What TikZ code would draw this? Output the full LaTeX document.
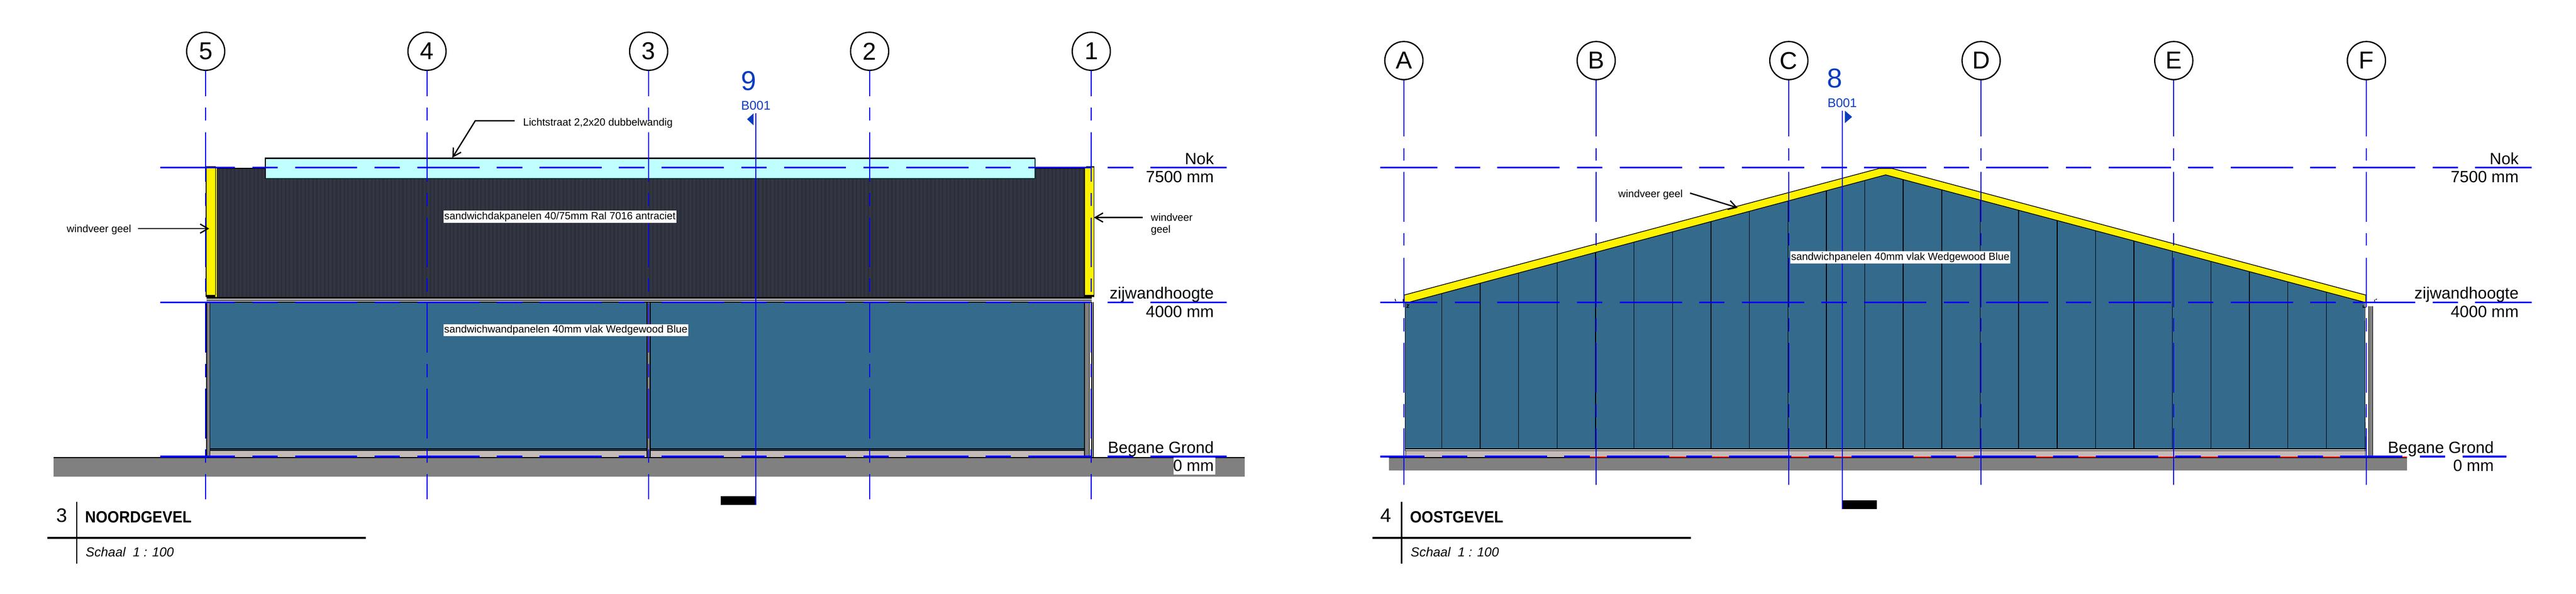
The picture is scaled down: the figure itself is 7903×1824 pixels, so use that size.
\documentclass[tikz,border=0pt]{standalone}
\usepackage{fontspec}
\setmainfont{Liberation Sans}
\usetikzlibrary{arrows.meta}
\newcommand{\fsz}[1]{\fontsize{#1pt}{#1pt}\selectfont}
\definecolor{wallblue}{HTML}{346A8C}
\definecolor{roofdark}{HTML}{323642}
\definecolor{roofrib}{HTML}{2C2F3A}
\definecolor{groundgrey}{HTML}{808080}
\definecolor{plinth}{HTML}{C4BAB8}
\definecolor{skylight}{HTML}{BFFFFF}
\definecolor{gridblue}{HTML}{0000FF}
\definecolor{sectblue}{HTML}{0A3CC0}
\definecolor{bandgrey}{HTML}{B4B4B4}
\tikzset{
  axisbubble/.style={circle,draw=black,line width=.4pt,fill=white,minimum size=11.7pt,inner sep=0pt,font=\fsz{7.5}},
  gridleft/.style={draw=gridblue,line width=.3pt,dash pattern=on 15.3pt off 3.45pt on 4pt off 3.5pt,dash phase=7.5pt},
  gridright/.style={draw=gridblue,line width=.3pt,dash pattern=on 17.2pt off 3.6pt on 3.9pt off 3.5pt on 15.2pt off 3.5pt on 3.9pt off 3.7pt on 15.2pt off 3.4pt on 4pt off 3.6pt on 15.2pt off 3.6pt on 4pt off 3.4pt on 17.5pt off 1pt},
  levelmain/.style={draw=gridblue,line width=.5pt,dash pattern=on 19.1pt off 5.3pt on 7.8pt off 5.3pt},
  levelsolid/.style={draw=gridblue,line width=.5pt},
  sectline/.style={draw=gridblue,line width=.3pt},
  outline/.style={draw=black,line width=.22pt},
  heavy/.style={draw=black,line width=.4pt},
  leader/.style={draw=black,line width=.4pt,-{Straight Barb[length=2.4pt,width=2.8pt]}},
  panellabel/.style={fill=white,inner sep=0pt,minimum height=3.7pt,font=\fsz{3.2}},
  note/.style={inner sep=0pt,font=\fsz{3.2}},
  levellabel/.style={inner sep=0pt,anchor=base east,font=\fsz{5}},
  titlenum/.style={inner sep=0pt,anchor=base west,font=\fsz{6}},
  titletext/.style={inner sep=0pt,anchor=base west,font=\fsz{5}\bfseries,xscale=.92},
  scaletext/.style={inner sep=0pt,anchor=base west,font=\fsz{4}\itshape},
  sectnum/.style={inner sep=0pt,anchor=base west,text=sectblue,font=\fsz{8.4}},
  sectsheet/.style={inner sep=0pt,anchor=base west,text=sectblue,font=\fsz{3.85}}
}
\begin{document}
\begin{tikzpicture}[x=0.1pt,y=-0.1pt]
\useasboundingbox (0,0) rectangle (7903,1824);
% ---------- NOORDGEVEL ----------
\fill[groundgrey] (165,1405) rectangle (3818,1463.5);
\fill[plinth] (645,1383) rectangle (3327,1405);
\fill[wallblue] (645,928) rectangle (3327,1383);
\draw[heavy] (645,1378) -- (3327,1378) (645,1383) -- (3327,1383);
% columns
\fill[groundgrey] (634,928) rectangle (644,1405);
\draw[outline] (634,928) -- (634,1405) (644,928) -- (644,1405);
\fill[groundgrey] (1985,928) rectangle (1995,1405);
\draw[outline] (1985,928) -- (1985,1405) (1995,928) -- (1995,1405);
\fill[groundgrey] (3327,928) rectangle (3342,1405);
\draw[outline] (3327,928) -- (3327,1405) (3342,928) -- (3342,1405) (3349,928) -- (3349,1405);
\draw[heavy] (3354,928) -- (3354,1405);
% roof
\fill[roofdark] (666,516) rectangle (3327,912);
\foreach \r in {672,684,...,3324} {\draw[roofrib,line width=.5pt] (\r,517) -- (\r,912);}
\draw[heavy] (666,516.5) -- (3327,516.5);
% eave band
\fill[bandgrey] (634,912) rectangle (3349,928);
\draw[black,line width=.55pt] (634,914) -- (3349,914);
\draw[outline] (634,922) -- (3349,922) (634,927.5) -- (3349,927.5);
% wind boards
\fill[yellow] (632,516) rectangle (666,905);
\fill[yellow] (661,905) rectangle (666,912);
\fill[black] (632,905) rectangle (661,912);
\fill[groundgrey] (632,512) rectangle (661,516);
\draw[outline] (632,512) -- (661,512) -- (661,905) (632,512) -- (632,912) (666,516) -- (666,912);
\fill[yellow] (3327,516) rectangle (3356,905);
\fill[black] (3327,905) rectangle (3356,912);
\fill[groundgrey] (3332,512) rectangle (3356,516);
\draw[outline] (3332,512) -- (3356,512) -- (3356,912) (3327,516) -- (3327,912);
% skylight
\fill[skylight] (814,486) rectangle (3175,548);
\draw[heavy] (814,548) -- (814,486) -- (3175,486);
\draw[black!60!teal,line width=.3pt] (814,548) -- (3175,548) -- (3175,486);
% ground line
\draw[heavy] (165,1405) -- (3818,1405);
% levels
\foreach \l in {515,929,1402} {
  \draw[levelsolid] (491,\l) -- (530,\l);
  \draw[levelmain] (530,\l) -- (3721,\l);
  \draw[levelsolid] (3721,\l) -- (3763,\l);
}
% grids
\foreach \n/\x in {5/631,4/1310,3/1990,2/2668,1/3348} {
  \node[axisbubble] (g\n) at (\x,157.5) {\n};
  \coordinate (ge\n) at (\x,1533);
  \draw[gridleft] (g\n.south) -- (ge\n);
}
% section 9
\coordinate (s9top) at (2319,347);
\coordinate (s9bot) at (2319,1550);
\fill[black] (2212,1523) rectangle (2319,1550);
\draw[sectline] (s9top) -- (s9bot);
\fill[sectblue] (2312,348) -- (2312,385) -- (2292,366) -- cycle;
\node[sectnum] (s9num) at (2272,277) {9};
\node[sectsheet] (s9sheet) at (2272,337) {B001};
% labels
\node[panellabel,minimum width=71.4pt] (roofpanel) at (1718,665.5) {sandwichdakpanelen 40/75mm Ral 7016 antraciet};
\node[panellabel,minimum width=75pt] (wallpanel) at (1736,1013.5) {sandwichwandpanelen 40mm vlak Wedgewood Blue};
\node[note,anchor=base west] (skylabel) at (1603,386) {Lichtstraat 2,2x20 dubbelwandig};
\coordinate (skybend) at (1458,371);
\coordinate (skystart) at (1579,371);
\coordinate (skytip) at (1388,484);
\draw[leader] (skystart) -- (skybend) -- (skytip);
\node[note,anchor=base west] (wvleft) at (203,714) {windveer geel};
\coordinate (wvlstart) at (423,702);
\coordinate (wvltip) at (642,702);
\draw[leader] (wvlstart) -- (wvltip);
\node[note,anchor=base west] (wvright) at (3529,679) {windveer};
\node[note,anchor=base west] (wvright2) at (3529,716) {geel};
\coordinate (wvrstart) at (3506,668);
\coordinate (wvrtip) at (3356,668);
\draw[leader] (wvrstart) -- (wvrtip);
\node[levellabel] (nokL) at (3726,505) {Nok};
\node[levellabel] (nokLv) at (3726,561) {7500 mm};
\node[levellabel] (zijL) at (3726,918) {zijwandhoogte};
\node[levellabel] (zijLv) at (3726,974) {4000 mm};
\node[levellabel] (bgL) at (3726,1391) {Begane Grond};
\fill[white] (3601,1405) rectangle (3728,1458);
\node[levellabel] (bgLv) at (3726,1447) {0 mm};
% title
\coordinate (t3a) at (236,1541); \coordinate (t3b) at (236,1730);
\coordinate (t3c) at (145,1652); \coordinate (t3d) at (1122,1652);
\draw[black,line width=.35pt] (t3a) -- (t3b);
\draw[black,line width=.6pt] (t3c) -- (t3d);
\node[titlenum] (t3n) at (171,1604) {3};
\node[titletext] (t3t) at (259,1605) {NOORDGEVEL};
\node[scaletext] (t3s) at (261,1709) {Schaal\ \ 1 : 100};
% ---------- OOSTGEVEL ----------
\fill[groundgrey] (4262,1405) rectangle (7385,1444);
\fill[plinth] (4313,1384) rectangle (7254,1405);
\fill[wallblue] (4310,1378) -- (4310,929) -- (4323,928) -- (5785,537) -- (7254,928) -- (7258,1378) -- cycle;
\begin{scope}
  \clip (4310,1378) -- (4310,929) -- (4323,928) -- (5785,537) -- (7254,928) -- (7258,1378) -- cycle;
  \foreach \k in {0,...,23} {\draw[black,line width=.22pt] ({4423+118*\k},530) -- ({4423+118*\k},1378);}
\end{scope}
\draw[outline] (4311,929) -- (4311,1384);
\draw[outline] (7256,929) -- (7256,1405);
\draw[heavy] (4310,1378) -- (7258,1378);
\draw[outline] (4310,1384) -- (7258,1384);
\draw[outline] (4313,1384) -- (4313,1405);
% roof board
\fill[yellow] (4308,906) -- (5766,517) -- (5804,517) -- (7258,906) -- (7258,929) -- (7254,928) -- (5785,537) -- (4323,928) -- (4308,929) -- cycle;
\draw[outline] (4308,929) -- (4308,906) -- (5766,517) -- (5804,517) -- (7258,906) -- (7258,929);
\draw[outline] (4323,928) -- (5785,537) -- (7254,928);
\fill[groundgrey] (5774,512) rectangle (5796,517);
% column at F
\fill[groundgrey] (7267,940) rectangle (7279,1405);
\draw[outline] (7267,940) -- (7267,1405) (7279,940) -- (7279,1405);
\draw[outline] (4280,918) -- (4282,925) (4286,929) -- (4305,929) -- (4305,918) (4316,936) -- (4322,936) -- (4316,944) -- (4323,944);
\draw[outline] (7250,938) -- (7250,944) -- (7258,944) (7288,920) -- (7292,918) (7285,929) -- (7285,920);
% ground line
\draw[heavy] (4262,1405) -- (7385,1405);
\draw[red,line width=.35pt] (4799,1403) -- (7385,1403);
% levels
\foreach \l in {515,929} {
  \draw[levelmain,dash phase=1.6pt] (4235,\l) -- (7767,\l);
}
\draw[levelmain,dash phase=5.5pt] (4235,1402) -- (7689,1402);
% grids
\foreach \n/\x in {A/4307,B/4897,C/5488,D/6078,E/6669,F/7260} {
  \node[axisbubble] (g\n) at (\x,186) {\n};
  \coordinate (ge\n) at (\x,1489);
  \draw[gridright] (g\n.south) -- (ge\n);
}
% section 8
\coordinate (s8top) at (5652,340);
\coordinate (s8bot) at (5652,1563);
\fill[black] (5652,1536.5) rectangle (5758,1563);
\draw[sectline] (s8top) -- (s8bot);
\fill[sectblue] (5660,340) -- (5660,378) -- (5682,359) -- cycle;
\node[sectnum] (s8num) at (5604,270) {8};
\node[sectsheet] (s8sheet) at (5605,330) {B001};
% labels
\node[panellabel,minimum width=67.4pt] (eastpanel) at (5830,790.5) {sandwichpanelen 40mm vlak Wedgewood Blue};
\node[note,anchor=base west] (wveast) at (4963,606) {windveer geel};
\coordinate (wvestart) at (5185,593);
\coordinate (wvetip) at (5331,638);
\draw[leader] (wvestart) -- (wvetip);
\node[levellabel] (nokR) at (7729,505) {Nok};
\node[levellabel] (nokRv) at (7729,561) {7500 mm};
\node[levellabel] (zijR) at (7729,918) {zijwandhoogte};
\node[levellabel] (zijRv) at (7729,974) {4000 mm};
\node[levellabel] (bgR) at (7653,1391) {Begane Grond};
\node[levellabel] (bgRv) at (7653,1447) {0 mm};
% title
\coordinate (t4a) at (4300,1541); \coordinate (t4b) at (4300,1730);
\coordinate (t4c) at (4211,1652); \coordinate (t4d) at (5188,1652);
\draw[black,line width=.35pt] (t4a) -- (t4b);
\draw[black,line width=.6pt] (t4c) -- (t4d);
\node[titlenum] (t4n) at (4233,1604) {4};
\node[titletext] (t4t) at (4324,1605) {OOSTGEVEL};
\node[scaletext] (t4s) at (4326,1709) {Schaal\ \ 1 : 100};
\end{tikzpicture}
\end{document}
